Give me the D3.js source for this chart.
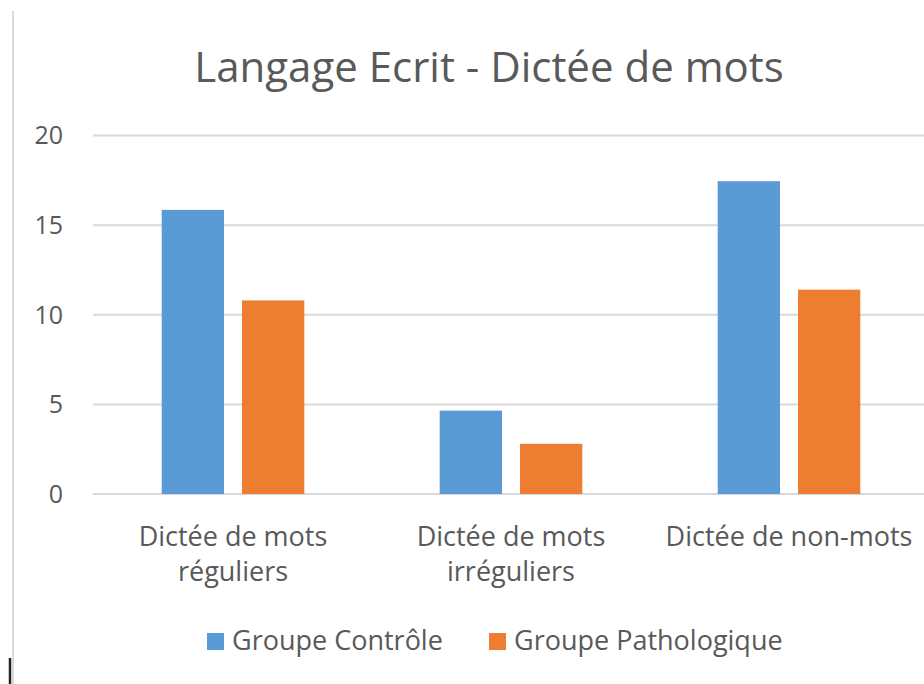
<!DOCTYPE html>
<html lang="fr">
<head>
    <meta charset="UTF-8">
    <title>Langage Ecrit - Dictée de mots</title>
    <script src="https://d3js.org/d3.v7.min.js"></script>
    <style>
        body { margin: 0; background: #fff; }
        text { font-family: "Open Sans", sans-serif; fill: #595959; }
    </style>
</head>
<body>
    <script>
        const categories = [["Dictée de mots", "réguliers"], ["Dictée de mots", "irréguliers"], ["Dictée de non-mots"]];
        const seriesNames = ["Groupe Contrôle", "Groupe Pathologique"];
        const controle = [15.85, 4.65, 17.45];
        const pathologique = [10.8, 2.8, 11.4];
        const yTicks = [0, 5, 10, 15, 20];
        const colors = ["#5b9bd5", "#ed7d31"];

        const width = 924, height = 684;
        const svg = d3.select("body").append("svg")
            .attr("width", width)
            .attr("height", height);

        // chart frame edge
        svg.append("line")
            .attr("x1", 13).attr("x2", 13).attr("y1", 11).attr("y2", height)
            .style("stroke", "#d9d9d9").style("stroke-width", 2);
        svg.append("line")
            .attr("x1", 10).attr("x2", 10).attr("y1", 658).attr("y2", height)
            .style("stroke", "#222").style("stroke-width", 2.5);

        svg.append("text")
            .attr("x", 489).attr("y", 82)
            .attr("text-anchor", "middle")
            .style("font-size", "42px")
            .text("Langage Ecrit - Dictée de mots");

        const catIdx = categories.map((d, i) => i);
        const x0 = d3.scaleBand().domain(catIdx).range([94, 928])
            .paddingInner(0.487).paddingOuter(0.2435);
        const x1 = d3.scaleBand().domain([0, 1]).range([0, x0.bandwidth()])
            .paddingInner(0.224);
        const y = d3.scaleLinear().domain([0, 20]).range([494, 135.5]);

        // gridlines
        svg.append("g").selectAll("line")
            .data(yTicks).enter().append("line")
            .attr("x1", 93).attr("x2", width)
            .attr("y1", d => y(d)).attr("y2", d => y(d))
            .style("stroke", "#d9d9d9").style("stroke-width", 2);

        // y tick labels
        svg.append("g").selectAll("text")
            .data(yTicks).enter().append("text")
            .attr("x", 63).attr("y", d => y(d))
            .attr("dy", "0.35em")
            .attr("text-anchor", "end")
            .style("font-size", "25px")
            .text(d => d);

        const rows = catIdx.map(i => [controle[i], pathologique[i]]);
        svg.append("g").selectAll("g")
            .data(rows).enter().append("g")
            .attr("transform", (d, i) => `translate(${x0(i)},0)`)
            .each(function(d) {
                d3.select(this).selectAll("rect")
                    .data(d).enter().append("rect")
                    .attr("x", (v, j) => x1(j))
                    .attr("y", v => y(v))
                    .attr("width", x1.bandwidth())
                    .attr("height", v => y(0) - y(v))
                    .style("fill", (v, j) => colors[j]);
            });

        // category labels
        svg.append("g").selectAll("text")
            .data(categories).enter().append("text")
            .attr("text-anchor", "middle")
            .style("font-size", "27px")
            .each(function(d, i) {
                d3.select(this).selectAll("tspan")
                    .data(d).enter().append("tspan")
                    .attr("x", x0(i) + x0.bandwidth() / 2)
                    .attr("y", (t, k) => 546 + k * 35)
                    .text(t => t);
            });

        // legend
        const legendX = [207, 489];
        const legend = svg.append("g").selectAll("g")
            .data(seriesNames).enter().append("g")
            .attr("transform", (d, i) => `translate(${legendX[i]},633)`);
        legend.append("rect")
            .attr("width", 17).attr("height", 17)
            .style("fill", (d, i) => colors[i]);
        legend.append("text")
            .attr("x", 25).attr("y", 8)
            .attr("dy", "0.35em")
            .style("font-size", "27px")
            .text(d => d);
    </script>
</body>
</html>
